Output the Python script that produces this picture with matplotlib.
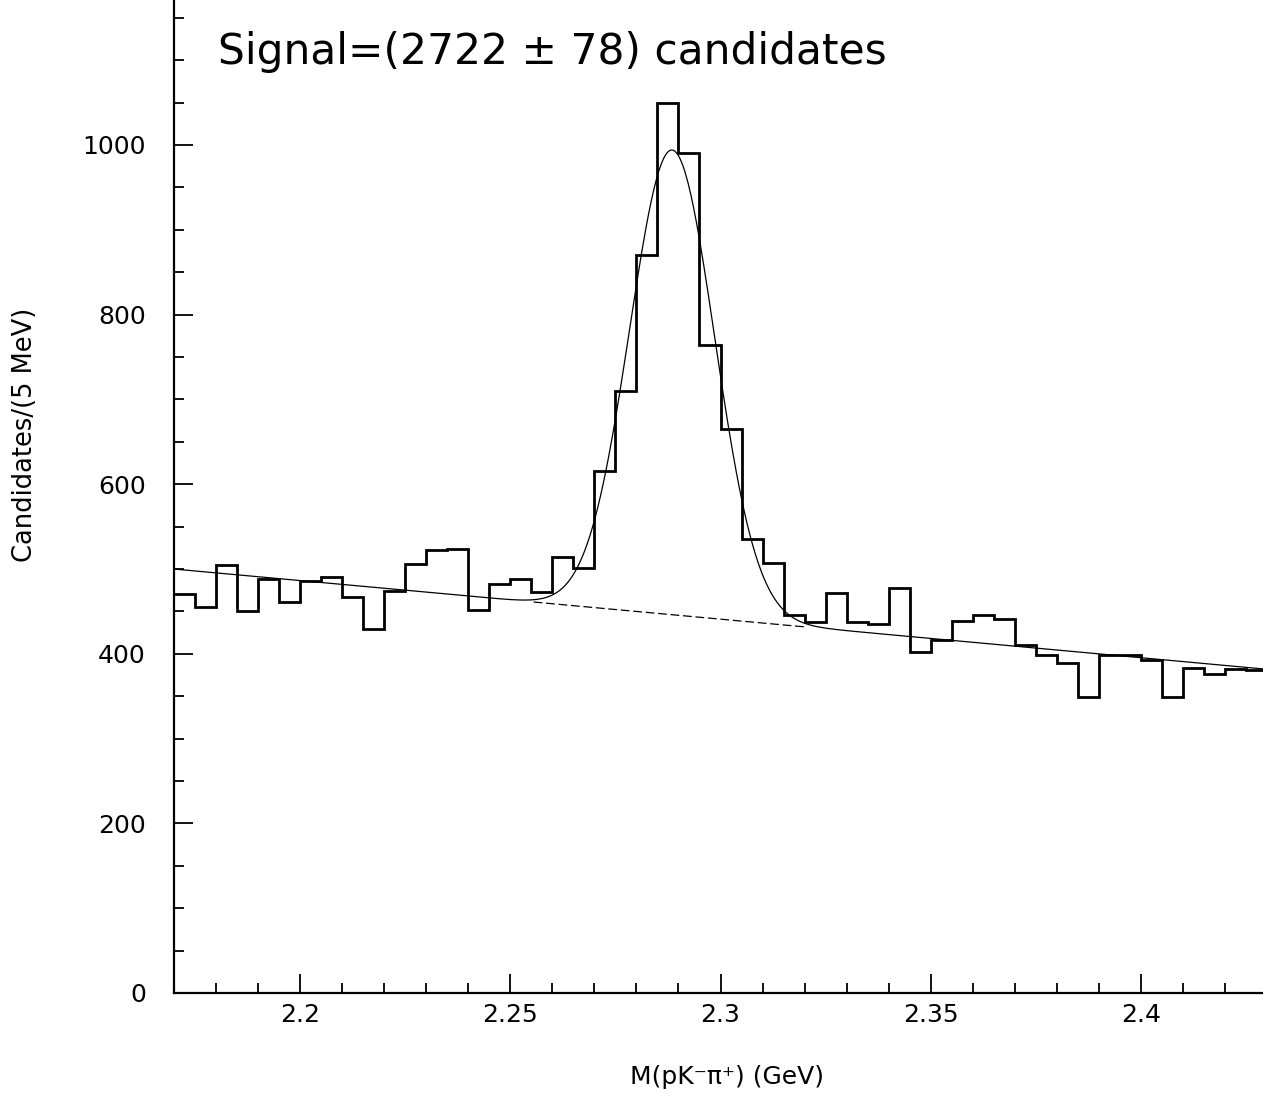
import numpy as np
import matplotlib
matplotlib.use("Agg")
import matplotlib.pyplot as plt
from matplotlib.ticker import MultipleLocator, FixedFormatter, FixedLocator

# Histogram: 5 MeV bins starting at 2.170 GeV
bin_start = 2.170
bin_width = 0.005
counts = [470, 455, 505, 450, 488, 461, 486, 490, 467, 429,
          474, 506, 522, 524, 452, 482, 488, 473, 514, 501,
          615, 710, 870, 1049, 991, 764, 665, 535, 507, 446,
          437, 472, 437, 435, 478, 402, 416, 439, 446, 441,
          410, 398, 389, 349, 399, 398, 393, 349, 383, 376,
          382, 381]

# Fit parameters (Gaussian signal + linear background)
sig_amp = 548.0
sig_mean = 2.2885
sig_sigma = 0.0101
bkg_at_start = 500.0
bkg_slope = -455.0

xticks = [2.2, 2.25, 2.3, 2.35, 2.4]
xtick_labels = ["2.2", "2.25", "2.3", "2.35", "2.4"]
yticks = [0, 200, 400, 600, 800, 1000]
ytick_labels = ["0", "200", "400", "600", "800", "1000"]

W, H = 1263, 1097
fig = plt.figure(figsize=(W / 100, H / 100), dpi=100)
x0, y0 = 173.6, 993.0
xmin, xmax = 2.17, 2.43
ymin, ymax = 0, 1200
px_per_x = 4207.0
px_per_y = 0.848
ax_w = (xmax - xmin) * px_per_x
ax_h = (ymax - ymin) * px_per_y
ax = fig.add_axes([x0 / W, (H - y0) / H, ax_w / W, ax_h / H])

edges = bin_start + bin_width * np.arange(len(counts) + 1)
ax.stairs(counts, edges, color="black", linewidth=2.0, baseline=None)

xs = np.linspace(xmin, xmax, 800)
bkg = bkg_at_start + bkg_slope * (xs - xmin)
total = bkg + sig_amp * np.exp(-0.5 * ((xs - sig_mean) / sig_sigma) ** 2)
ax.plot(xs, total, color="black", linewidth=0.9)
mask = (xs > 2.2555) & (xs < 2.3205)
ax.plot(xs[mask], bkg[mask], color="black", linewidth=0.9,
        linestyle=(0, (7, 3)))

ax.set_xlim(xmin, xmax)
ax.set_ylim(ymin, ymax)
ax.spines["top"].set_visible(False)
ax.spines["right"].set_visible(False)
ax.spines["left"].set_linewidth(1.6)
ax.spines["bottom"].set_linewidth(1.6)

ax.xaxis.set_major_locator(FixedLocator(xticks))
ax.xaxis.set_major_formatter(FixedFormatter(xtick_labels))
ax.xaxis.set_minor_locator(MultipleLocator(0.01))
ax.yaxis.set_major_locator(FixedLocator(yticks))
ax.yaxis.set_major_formatter(FixedFormatter(ytick_labels))
ax.yaxis.set_minor_locator(MultipleLocator(50))
ax.tick_params(which="major", direction="in", length=14, width=1.3,
               labelsize=18, top=False, right=False)
ax.tick_params(which="minor", direction="in", length=7, width=1.3,
               top=False, right=False)
ax.tick_params(axis="y", which="major", pad=20)
ax.tick_params(axis="x", which="major", pad=7)

ax.set_xlabel("M(pK\u207b\u03c0\u207a) (GeV)", fontsize=18)
ax.xaxis.set_label_coords((727 - x0) / ax_w, (y0 - 1077) / ax_h)
ax.xaxis.label.set_va("center")
ax.set_ylabel("Candidates/(5 MeV)", fontsize=18.5)
ax.yaxis.set_label_coords((25 - x0) / ax_w, (y0 - 435) / ax_h)
ax.yaxis.label.set_va("center")

fig.text(218 / W, 1 - 52 / H, "Signal=(2722 \u00b1 78) candidates",
         fontsize=30.5, ha="left", va="center")

fig.savefig("out.png", dpi=100)
